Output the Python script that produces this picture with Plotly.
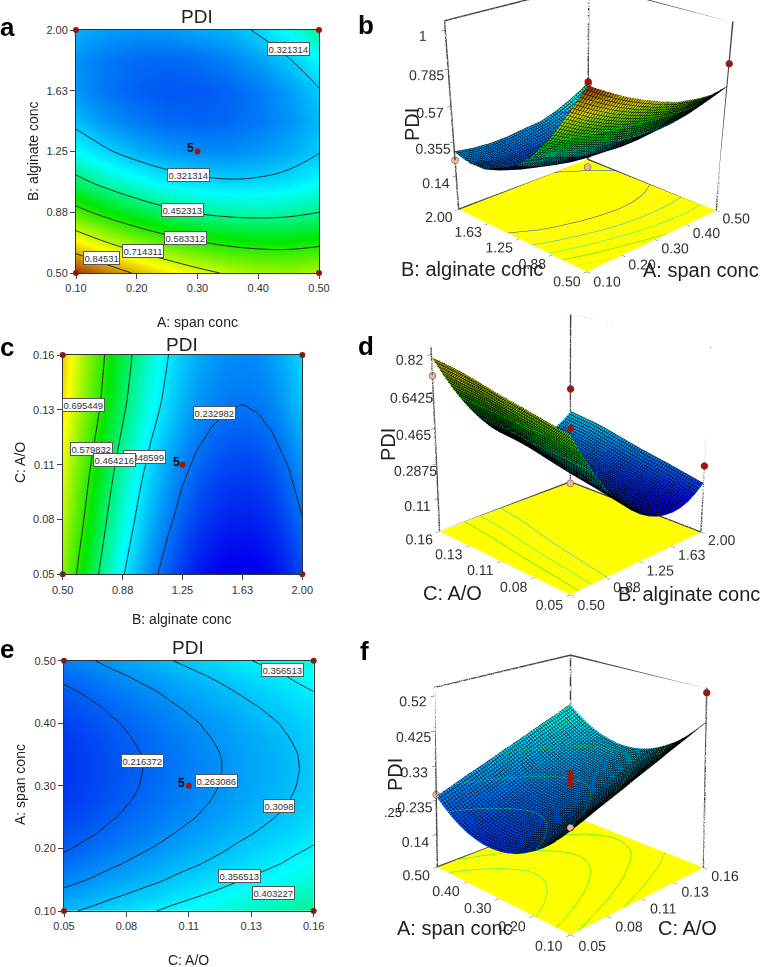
import plotly.graph_objects as go

W, H = 762, 967
FONT = "Liberation Sans"

# ---------- data ----------
span_vals = [0.10, 0.15, 0.20, 0.25, 0.30, 0.35, 0.40, 0.45, 0.50]
alg_vals = [0.50, 0.6875, 0.875, 1.0625, 1.25, 1.4375, 1.625, 1.8125, 2.00]
alg_fine = [0.50, 0.59375, 0.6875, 0.78125, 0.875, 0.96875, 1.0625, 1.15625, 1.25,
            1.34375, 1.4375, 1.53125, 1.625, 1.71875, 1.8125, 1.90625, 2.00]
ao_fine = [0.05, 0.056875, 0.06375, 0.070625, 0.0775, 0.084375, 0.09125, 0.098125, 0.105,
           0.111875, 0.11875, 0.125625, 0.1325, 0.139375, 0.14625, 0.153125, 0.16]
span_fine = [0.10, 0.125, 0.15, 0.175, 0.20, 0.225, 0.25, 0.275, 0.30,
             0.325, 0.35, 0.375, 0.40, 0.425, 0.45, 0.475, 0.50]

# rows: alginate, columns: span
pdi_span_alg = [
    [0.960, 0.895, 0.835, 0.785, 0.740, 0.705, 0.685, 0.675, 0.690],
    [0.781, 0.717, 0.664, 0.621, 0.589, 0.568, 0.557, 0.557, 0.568],
    [0.612, 0.555, 0.508, 0.472, 0.446, 0.432, 0.428, 0.434, 0.452],
    [0.476, 0.425, 0.385, 0.355, 0.337, 0.328, 0.331, 0.344, 0.368],
    [0.373, 0.329, 0.295, 0.272, 0.260, 0.258, 0.268, 0.288, 0.318],
    [0.303, 0.266, 0.239, 0.222, 0.217, 0.222, 0.238, 0.264, 0.301],
    [0.267, 0.235, 0.215, 0.205, 0.206, 0.218, 0.240, 0.273, 0.317],
    [0.263, 0.238, 0.225, 0.221, 0.229, 0.247, 0.276, 0.316, 0.366],
    [0.293, 0.275, 0.267, 0.271, 0.285, 0.295, 0.330, 0.380, 0.440],
]
# rows: A/O, columns: alginate
pdi_alg_ao = [
    [.661,.573,.493,.420,.355,.298,.248,.206,.171,.144,.125,.114,.110,.115,.130,.156,.191],
    [.671,.583,.503,.430,.365,.308,.258,.216,.181,.154,.135,.124,.120,.125,.140,.166,.201],
    [.681,.593,.513,.440,.375,.318,.268,.226,.191,.164,.145,.134,.130,.135,.150,.176,.211],
    [.691,.603,.523,.450,.385,.328,.278,.236,.201,.174,.155,.144,.140,.145,.160,.186,.221],
    [.701,.613,.533,.460,.395,.338,.288,.246,.211,.184,.165,.154,.150,.155,.170,.196,.231],
    [.710,.622,.542,.469,.404,.347,.297,.255,.220,.193,.174,.163,.159,.164,.179,.205,.240],
    [.719,.631,.551,.478,.413,.356,.306,.264,.229,.202,.183,.172,.168,.173,.188,.214,.249],
    [.728,.640,.560,.487,.422,.365,.315,.273,.238,.211,.192,.181,.177,.182,.197,.223,.258],
    [.738,.650,.570,.497,.432,.375,.325,.283,.248,.221,.202,.191,.187,.192,.207,.233,.268],
    [.749,.661,.581,.508,.443,.386,.336,.294,.259,.232,.213,.202,.198,.203,.218,.244,.279],
    [.760,.672,.592,.519,.454,.397,.347,.305,.270,.243,.224,.213,.209,.214,.229,.255,.290],
    [.771,.683,.603,.530,.465,.408,.358,.316,.281,.254,.235,.224,.220,.225,.240,.266,.301],
    [.781,.693,.613,.540,.475,.418,.368,.326,.291,.264,.245,.234,.230,.235,.250,.276,.311],
    [.789,.701,.621,.548,.483,.426,.376,.334,.299,.272,.253,.242,.238,.243,.258,.284,.319],
    [.795,.707,.627,.554,.489,.432,.382,.340,.305,.278,.259,.248,.244,.249,.264,.290,.325],
    [.801,.713,.633,.560,.495,.438,.388,.346,.311,.284,.265,.254,.250,.255,.270,.296,.331],
    [.806,.718,.638,.565,.500,.443,.393,.351,.316,.289,.270,.259,.255,.260,.275,.301,.336],
]
# rows: span, columns: A/O
pdi_ao_span = [
    [.302,.311,.320,.330,.339,.348,.357,.367,.376,.385,.394,.404,.413,.422,.431,.441,.450],
    [.275,.284,.293,.303,.312,.321,.330,.340,.349,.358,.367,.377,.386,.395,.404,.414,.423],
    [.250,.259,.268,.278,.287,.296,.305,.315,.324,.333,.342,.352,.361,.370,.379,.389,.398],
    [.229,.238,.247,.257,.266,.275,.284,.294,.303,.312,.321,.331,.340,.349,.358,.368,.377],
    [.212,.221,.230,.240,.249,.258,.267,.277,.286,.295,.304,.314,.323,.332,.341,.351,.360],
    [.197,.206,.215,.225,.234,.243,.252,.262,.271,.280,.289,.299,.308,.317,.326,.336,.345],
    [.185,.194,.203,.213,.222,.231,.240,.250,.259,.268,.277,.287,.296,.305,.314,.324,.333],
    [.177,.186,.195,.205,.214,.223,.232,.242,.251,.260,.269,.279,.288,.297,.306,.316,.325],
    [.172,.181,.190,.200,.209,.218,.227,.237,.246,.255,.264,.274,.283,.292,.301,.311,.320],
    [.170,.179,.188,.198,.207,.216,.225,.235,.244,.253,.262,.272,.281,.290,.299,.309,.318],
    [.171,.180,.189,.199,.208,.217,.226,.236,.245,.254,.263,.273,.282,.291,.300,.310,.319],
    [.176,.185,.194,.204,.213,.222,.231,.241,.250,.259,.268,.278,.287,.296,.305,.315,.324],
    [.183,.192,.201,.211,.220,.229,.238,.248,.257,.266,.275,.285,.294,.303,.312,.322,.331],
    [.194,.203,.212,.222,.231,.240,.249,.259,.268,.277,.286,.296,.305,.314,.323,.333,.342],
    [.208,.217,.226,.236,.245,.254,.263,.273,.282,.291,.300,.310,.319,.328,.337,.347,.356],
    [.225,.234,.243,.253,.262,.271,.280,.290,.299,.308,.317,.327,.336,.345,.354,.364,.373],
    [.245,.254,.263,.273,.282,.291,.300,.310,.319,.328,.337,.347,.356,.365,.374,.384,.393],
]

span_ticks = [0.10, 0.20, 0.30, 0.40, 0.50]
span_text = ["0.10", "0.20", "0.30", "0.40", "0.50"]
alg_ticks = [0.50, 0.875, 1.25, 1.625, 2.00]
alg_text = ["0.50", "0.88", "1.25", "1.63", "2.00"]
ao_ticks = [0.05, 0.0775, 0.105, 0.1325, 0.16]
ao_text = ["0.05", "0.08", "0.11", "0.13", "0.16"]

z_ticks_b = [0.14, 0.355, 0.57, 0.785, 1.0]
z_text_b = ["0.14", "0.355", "0.57", "0.785", "1"]
z_ticks_d = [0.11, 0.2875, 0.465, 0.6425, 0.82]
z_text_d = ["0.11", "0.2875", "0.465", "0.6425", "0.82"]
z_ticks_f = [0.14, 0.235, 0.33, 0.425, 0.52]
z_text_f = ["0.14", "0.235", "0.33", "0.425", "0.52"]

design_a_x = [0.10, 0.10, 0.50, 0.50, 0.30]
design_a_y = [0.50, 2.00, 0.50, 2.00, 1.25]
design_c_x = [0.50, 0.50, 2.00, 2.00, 1.25]
design_c_y = [0.05, 0.16, 0.05, 0.16, 0.105]
design_e_x = [0.05, 0.05, 0.16, 0.16, 0.105]
design_e_y = [0.10, 0.50, 0.10, 0.50, 0.30]

# measured PDI at the design points; repeated centre runs are listed after them
measured_b = [0.98, 0.24, 0.82, 0.44, 0.20]
center_b = [0.28]
measured_d = [0.69, 0.72, 0.28, 0.46, 0.19]
center_d = [0.27]
measured_f = [0.31, 0.25, 0.53, 0.33, 0.28]
center_f = [0.295, 0.31]

CS = [[0, "#0000ee"], [0.294, "#00ffff"], [0.506, "#00e800"], [0.753, "#ffff00"], [1, "#a02810"]]
ZMIN, ZMAX = 0.12, 0.97


def px_x(x):
    return x / W


def px_y(y):
    return 1 - y / H


fig = go.Figure()
annos = []


def text(x, y, s, size=14, color="#222", bold=False, angle=0, **kw):
    annos.append(dict(x=px_x(x), y=px_y(y), xref="paper", yref="paper", text=f"<b>{s}</b>" if bold else s,
                      showarrow=False, textangle=angle, font=dict(family=FONT, size=size, color=color),
                      xanchor="center", yanchor="middle", **kw))


def contour_label(x, y, s):
    text(x, y, s, size=9.5, color="#333", bgcolor="white", bordercolor="#555", borderwidth=1, borderpad=0.5)


def panel2d(idx, x, y, z, box, start, end, size, dx, dy, dtx, dty, tx, ty):
    xa, ya = f"xaxis{idx}", f"yaxis{idx}"
    l, t, r, b = box
    fig.add_trace(go.Contour(x=x, y=y, z=z, xaxis=f"x{idx}", yaxis=f"y{idx}", colorscale=CS, zmin=ZMIN, zmax=ZMAX,
                             showscale=False, hoverinfo="skip",
                             contours=dict(coloring="heatmap", start=start, end=end, size=size),
                             line=dict(color="#1a1a1a", width=0.9, smoothing=1.2)))
    fig.add_trace(go.Scatter(x=dx, y=dy, xaxis=f"x{idx}", yaxis=f"y{idx}", mode="markers", cliponaxis=False,
                             marker=dict(color="#a51208", size=6), hoverinfo="skip"))
    common = dict(showgrid=False, zeroline=False, ticks="outside", ticklen=5, tickcolor="#444", tickwidth=1,
                  showline=True, linecolor="#333", linewidth=1, mirror=True,
                  tickfont=dict(family=FONT, size=11, color="#333"))
    fig.update_layout({
        xa: dict(domain=[px_x(l), px_x(r)], range=[x[0], x[-1]], tickvals=dtx, ticktext=tx, anchor=f"y{idx}", **common),
        ya: dict(domain=[px_y(b), px_y(t)], range=[y[0], y[-1]], tickvals=dty, ticktext=ty, anchor=f"x{idx}", **common),
    })


panel2d(1, span_vals, alg_vals, pdi_span_alg, (76, 30, 319, 273), 0.321314, 0.84531, 0.130999,
        design_a_x, design_a_y, span_ticks, alg_ticks, span_text, alg_text)
panel2d(2, alg_fine, ao_fine, pdi_alg_ao, (62.7, 355, 302.3, 574.3), 0.232982, 0.695449, 0.115617,
        design_c_x, design_c_y, alg_ticks, ao_ticks, alg_text, ao_text)
panel2d(3, ao_fine, span_fine, pdi_ao_span, (64, 660.7, 313.7, 911), 0.216372, 0.403227, 0.046714,
        design_e_x, design_e_y, ao_ticks, span_ticks, ao_text, span_text)

EX, EZ = 3.68, 1.93


def scene3d(name, x, y, z, dom, xl, asp, zr, zticks, ztext, xt, xtt, yt, ytt, level, cen, px, py, pz, pale):
    sx = (x[-1] - x[0]) / 60
    sy = (y[-1] - y[0]) / 60
    fig.add_trace(go.Surface(
        x=x, y=y, z=z, scene=name, colorscale=CS, cmin=ZMIN, cmax=ZMAX, showscale=False, hoverinfo="skip",
        lighting=dict(ambient=0.85, diffuse=0.25, specular=0.02, roughness=1),
        contours=dict(
            x=dict(show=True, start=x[0], end=x[-1], size=sx, color="black", width=1),
            y=dict(show=True, start=y[0], end=y[-1], size=sy, color="black", width=1),
            z=dict(show=True, start=level[0], end=level[1], size=level[2], usecolormap=True, width=1,
                   project=dict(z=True)),
        )))
    x0, x1, y0, y1, z0, z1 = x[0], x[-1], y[0], y[-1], zr[0], zr[1]
    # frame of the back walls, from the axis limits
    fx = [x0, x0, x1, x1, x1, None, x1, x1, x0, None, x1, x1]
    fy = [y1, y1, y1, y0, y0, None, y0, y1, y1, None, y1, y1]
    fz = [z0, z1, z1, z1, z0, None, z0, z0, z0, None, z1, z0]
    fig.add_trace(go.Scatter3d(x=fx, y=fy, z=fz, scene=name, mode="lines", line=dict(color="#444", width=3),
                               hoverinfo="skip"))
    cols = ["#e8b89a" if p else "#a51208" for p in pale]
    fig.add_trace(go.Scatter3d(x=px, y=py, z=pz, scene=name, mode="markers",
                               marker=dict(size=4, color=cols, line=dict(color="#704030", width=1)),
                               hoverinfo="skip"))
    ax = dict(showgrid=False, zeroline=False, showspikes=False, showbackground=False, title=dict(text=""),
              ticks="outside", ticklen=4, tickcolor="#444", showline=False, tickangle=0,
              tickfont=dict(family=FONT, size=13, color="#333"))
    fig.update_layout({name: dict(
        domain=dict(x=[px_x(xl), 1], y=[px_y(dom[1]), px_y(dom[0])]),
        xaxis=dict(range=[x0, x1], tickvals=xt, ticktext=xtt, **ax),
        yaxis=dict(range=[y0, y1], tickvals=yt, ticktext=ytt, **ax),
        zaxis=dict(range=[z0, z1], tickvals=zticks, ticktext=ztext, **{**ax, "showbackground": True,
                                                                      "backgroundcolor": "#ffff00"}),
        aspectmode="manual", aspectratio=dict(x=1, y=1, z=asp),
        camera=dict(eye=dict(x=-EX, y=-EX, z=EZ), center=dict(x=cen[0], y=cen[1], z=cen[2]),
                    up=dict(x=0, y=0, z=1), projection=dict(type="perspective")),
        bgcolor="rgba(0,0,0,0)",
    )})


scene3d("scene", span_vals, alg_vals, pdi_span_alg, (0, 848), 392, 1.0, (-0.08, 1.05), z_ticks_b, z_text_b,
        span_ticks, span_text, alg_ticks, alg_text, (0.321314, 0.84531, 0.130999), (-0.04, 0.04, -1.97),
        design_a_x + design_a_x[-1:], design_a_y + design_a_y[-1:], measured_b + center_b,
        [False, True, False, True, True, True])
scene3d("scene2", alg_fine, ao_fine, pdi_alg_ao, (16, 894), 368, 1.03, (-0.063, 0.855), z_ticks_d, z_text_d,
        alg_ticks, alg_text, ao_ticks, ao_text, (0.348599, 0.695449, 0.115617), (-0.02, 0.02, -0.07),
        design_c_x + design_c_x[-1:], design_c_y + design_c_y[-1:], measured_d + center_d,
        [False, True, False, False, True, True])
scene3d("scene3", ao_fine, span_fine, pdi_ao_span, (114, 967), 368, 0.98, (0.048, 0.543), z_ticks_f, z_text_f,
        ao_ticks, ao_text, span_ticks, span_text, (0.216372, 0.403227, 0.046714), (-0.02, 0.02, 1.26),
        design_e_x + design_e_x[-1:] * 2, design_e_y + design_e_y[-1:] * 2, measured_f + center_f,
        [True, True, False, True, False, False, False])

# panel letters
for x, y, s in [(7, 27, "a"), (366, 25, "b"), (7, 347, "c"), (366, 346, "d"), (7, 649, "e"), (364, 651, "f")]:
    text(x, y, s, size=26, color="black", bold=True)

# 2-D titles
for x, y in [(197, 16), (182, 344), (188, 647)]:
    text(x, y, "PDI", size=19)
for x, y, s in [(197, 322, "A: span conc"), (182, 619, "B: alginate conc"), (188, 960, "C: A/O")]:
    text(x, y, s, size=14)
for x, y, s in [(33, 151, "B: alginate conc"), (20, 463, "C: A/O"), (20, 785, "A: span conc")]:
    text(x, y, s, size=14, angle=-90)
for x, y in [(190, 148), (176, 462), (181, 783)]:
    text(x, y, "5", size=12, color="black", bold=True)

# contour labels
for x, y, s in [(288, 49, "0.321314"), (188, 175, "0.321314"), (182, 210, "0.452313"), (185, 238, "0.583312"),
                (143, 251, "0.714311"), (101, 258, "0.84531"),
                (83, 405, "0.695449"), (91, 449, "0.579832"), (144, 457, "0.348599"), (114, 460, "0.464216"),
                (214, 413, "0.232982"),
                (282, 670, "0.356513"), (142, 761, "0.216372"), (217, 781, "0.263086"), (279, 806, "0.3098"),
                (239, 876, "0.356513"), (273, 893, "0.403227")]:
    contour_label(x, y, s)

# 3-D titles
for x, y, s in [(472, 269, "B: alginate conc"), (701, 270, "A: span conc"),
                (452, 593, "C: A/O"), (689, 594, "B: alginate conc"),
                (455, 928, "A: span conc"), (687, 928, "C: A/O")]:
    text(x, y, s, size=20)
for x, y in [(412, 125), (388, 445), (395, 775)]:
    text(x, y, "PDI", size=20, angle=-90)
text(393, 812, ".25", size=13)

fig.update_layout(width=W, height=H, autosize=False, margin=dict(l=0, r=0, t=0, b=0, autoexpand=False), showlegend=False,
                  paper_bgcolor="white", plot_bgcolor="white", annotations=annos)
fig.write_html("out.html", config=dict(displayModeBar=False), post_script="document.body.style.margin='0';")
